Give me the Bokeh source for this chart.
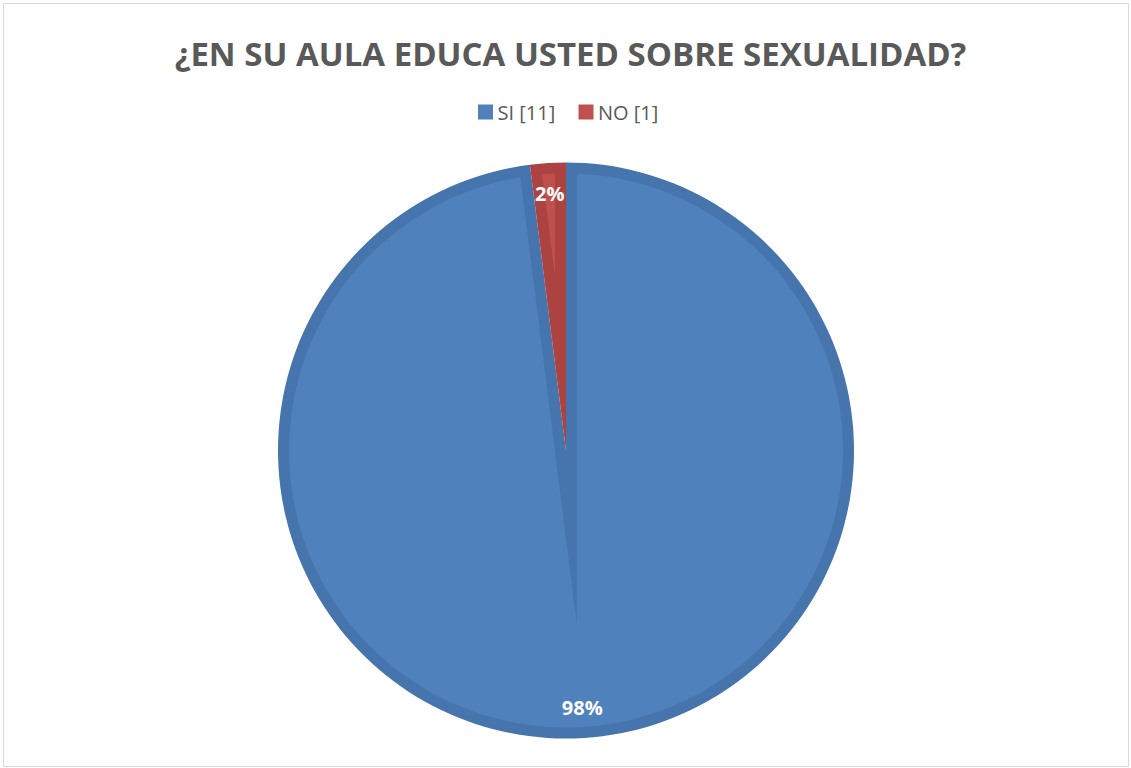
import numpy as np
from bokeh.plotting import figure
from bokeh.models import Range1d
from bokeh.core.properties import value
from bokeh.embed import file_html
from bokeh.resources import INLINE

# ---- data ----
title_text = "¿EN SU AULA EDUCA USTED SOBRE SEXUALIDAD?"
categories = ["SI [11]", "NO [1]"]
percents = [98, 2]
light_colors = ["#4F81BD", "#C0504D"]
dark_colors = ["#4674AC", "#AD4340"]

# ---- layout (page pixel coordinates; y flipped) ----
W, H = 1131, 768
PAGE_H = 768
def fy(y):
    return PAGE_H - y

CX, CY = 565.5, fy(450)
R = 288.0
BEVEL = 11.0
LABEL_R = 258.0

p = figure(width=W, height=H, output_backend="svg", toolbar_location=None,
           x_range=Range1d(3, 1128), y_range=Range1d(fy(766), fy(3)),
           min_border_left=3, min_border_top=3, min_border_right=3,
           min_border_bottom=2, x_axis_location=None, y_axis_location=None)
p.xgrid.visible = False
p.ygrid.visible = False
p.outline_line_color = "#D9D9D9"
p.outline_line_width = 1
p.background_fill_color = "white"
p.border_fill_color = "white"

# angles: start at 12 o'clock, clockwise
total = float(sum(percents))
fr = np.array(percents, dtype=float) / total
cum = np.concatenate([[0.0], np.cumsum(fr)])
starts = np.pi / 2 - cum[1:] * 2 * np.pi
ends = np.pi / 2 - cum[:-1] * 2 * np.pi

for i in range(len(percents)):
    a0, a1 = starts[i], ends[i]
    p.wedge(x=CX, y=CY, radius=R, start_angle=a0, end_angle=a1,
            fill_color=dark_colors[i], line_color=None)
    # inner bevel shape
    s = a1 - a0
    b = a0 + s / 2
    d = BEVEL / np.sin(s / 2)
    A = np.array([d * np.cos(b), d * np.sin(b)])
    Ri = R - BEVEL
    def hit(a):
        u = np.array([np.cos(a), np.sin(a)])
        au = A @ u
        t = -au + np.sqrt(au * au - A @ A + Ri * Ri)
        P = A + t * u
        return np.arctan2(P[1], P[0])
    t0 = hit(a0)
    t1 = hit(a1)
    while t1 <= t0:
        t1 += 2 * np.pi
    arc = np.linspace(t0, t1, 400)
    xs = np.concatenate([[A[0]], Ri * np.cos(arc), [A[0]]]) + CX
    ys = np.concatenate([[A[1]], Ri * np.sin(arc), [A[1]]]) + CY
    p.patch(xs, ys, fill_color=light_colors[i], line_color=None)

# data labels
mid = (starts + ends) / 2
lx = CX + LABEL_R * np.cos(mid)
ly = CY + LABEL_R * np.sin(mid)
p.text(x=lx, y=ly, text=[f"{v}%" for v in percents], text_color="white",
       text_font=value("Open Sans"), text_font_style="bold",
       text_font_size="20px", text_align="center", text_baseline="middle")

# title
p.text(x=[570], y=[fy(53)], text=[title_text], text_color="#595959",
       text_font=value("Open Sans"), text_font_style="bold",
       text_font_size="33px", text_align="center", text_baseline="middle")

# legend
leg_sq_x = [485, 585.5]
leg_y = fy(111.5)
p.scatter(x=leg_sq_x, y=[leg_y] * 2, marker="square", size=15,
          fill_color=light_colors, line_color=None)
p.text(x=[x + 12 for x in leg_sq_x], y=[leg_y] * 2, text=categories,
       text_color="#595959", text_font=value("Open Sans"),
       text_font_size="20px", text_align="left", text_baseline="middle")

open("out.html", "w").write(file_html(p, INLINE))
